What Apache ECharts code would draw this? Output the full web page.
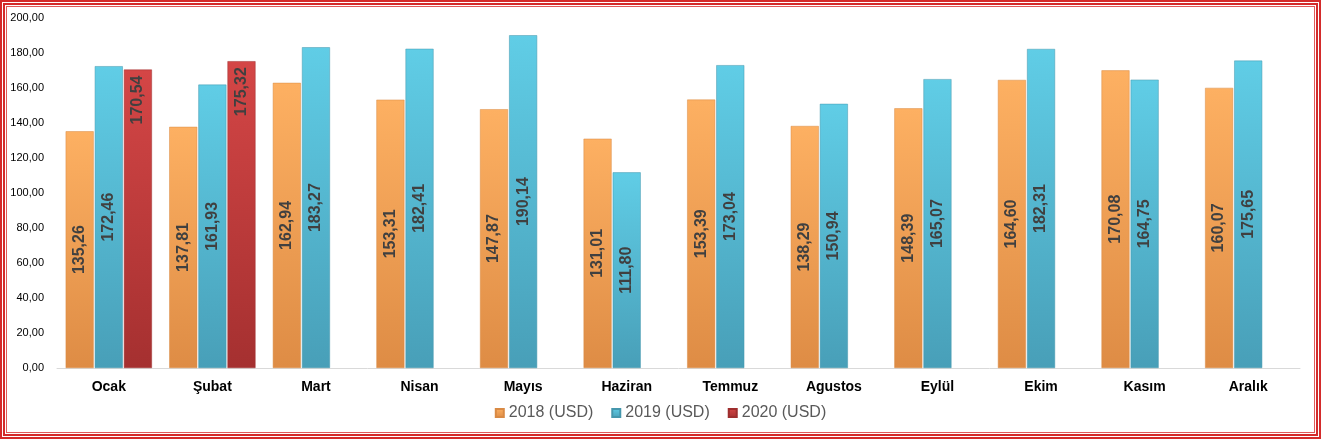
<!DOCTYPE html>
<html>
<head>
<meta charset="utf-8" />
<script src="https://cdn.jsdelivr.net/npm/echarts@6/dist/echarts.min.js"></script>
<style>
	html, body { margin: 0; padding: 0; background: #fff; }
	#frame { width: 1321px; height: 439px; box-sizing: border-box;
		border: 2px solid #d42b2b; padding: 1px; }
	#frame2 { width: 100%; height: 100%; box-sizing: border-box;
		border: 2px solid #d42b2b; padding: 1px; }
	#frame3 { width: 100%; height: 100%; box-sizing: border-box;
		border: 1px solid #e05a5a; }
	#main { width: 100%; height: 100%; }
</style>
</head>
<body>
<div id="frame"><div id="frame2"><div id="frame3"><div id="main"></div></div></div></div>
<script type="text/javascript">
	// aylar
	var months = ['Ocak', 'Şubat', 'Mart', 'Nisan', 'Mayıs', 'Haziran', 'Temmuz', 'Agustos', 'Eylül', 'Ekim', 'Kasım', 'Aralık'];
	var usd2018 = [135.26, 137.81, 162.94, 153.31, 147.87, 131.01, 153.39, 138.29, 148.39, 164.60, 170.08, 160.07];
	var usd2019 = [172.46, 161.93, 183.27, 182.41, 190.14, 111.80, 173.04, 150.94, 165.07, 182.31, 164.75, 175.65];
	var usd2020 = [170.54, 175.32, null, null, null, null, null, null, null, null, null, null];
	var yTicks = { min: 0, max: 200, interval: 20 };

	function trNum(v) {
		return Number(v).toFixed(2).replace('.', ',');
	}

	function grad(top, bottom) {
		return new echarts.graphic.LinearGradient(0, 0, 0, 1, [
			{ offset: 0, color: top },
			{ offset: 1, color: bottom }
		]);
	}

	var myChart = echarts.init(document.getElementById('main'));

	var labelMid = {
		show: true,
		position: 'inside',
		rotate: 90,
		fontFamily: 'Liberation Sans',
		fontWeight: 'bold',
		fontSize: 16,
		color: '#404040',
		formatter: function (p) { return trNum(p.value); }
	};

	var option = {
		textStyle: { fontFamily: 'Liberation Sans' },
		grid: { left: 50, right: 14, top: 11, bottom: 64 },
		legend: {
			bottom: 6,
			left: 'center',
			icon: 'rect',
			itemWidth: 8,
			itemHeight: 8,
			itemGap: 18,
			textStyle: { fontSize: 16, color: '#595959', fontFamily: 'Liberation Sans' },
			data: ['2018 (USD)', '2019 (USD)', '2020 (USD)']
		},
		xAxis: {
			type: 'category',
			data: months,
			axisLine: { lineStyle: { color: '#d9d9d9', width: 1 } },
			axisTick: { show: false },
			axisLabel: { fontSize: 14, fontWeight: 'bold', color: '#000', margin: 12 }
		},
		yAxis: {
			type: 'value',
			min: yTicks.min,
			max: yTicks.max,
			interval: yTicks.interval,
			axisLine: { show: false },
			axisTick: { show: false },
			splitLine: { show: false },
			axisLabel: { fontSize: 11, color: '#000', margin: 13, formatter: trNum }
		},
		series: [
			{
				name: '2018 (USD)',
				type: 'bar',
				barWidth: 28,
				barGap: '4%',
				data: usd2018,
				itemStyle: { color: grad('#fdb062', '#de8c45'), borderColor: '#d98a44', borderWidth: 0.5 },
				label: labelMid
			},
			{
				name: '2019 (USD)',
				type: 'bar',
				barWidth: 28,
				barGap: '4%',
				data: usd2019,
				itemStyle: { color: grad('#60cde6', '#489fb8'), borderColor: '#4597ad', borderWidth: 0.5 },
				label: labelMid
			},
			{
				name: '2020 (USD)',
				type: 'bar',
				barWidth: 28,
				barGap: '4%',
				data: usd2020,
				itemStyle: { color: grad('#d44646', '#a53030'), borderColor: '#9e2e2e', borderWidth: 0.5 },
				label: {
					show: true,
					position: 'insideTop',
					rotate: 90,
					align: 'right',
					verticalAlign: 'middle',
					distance: 6,
					fontFamily: 'Liberation Sans',
					fontWeight: 'bold',
					fontSize: 16,
					color: '#404040',
					formatter: function (p) { return trNum(p.value); }
				}
			}
		]
	};

	myChart.setOption(option);
</script>
</body>
</html>
